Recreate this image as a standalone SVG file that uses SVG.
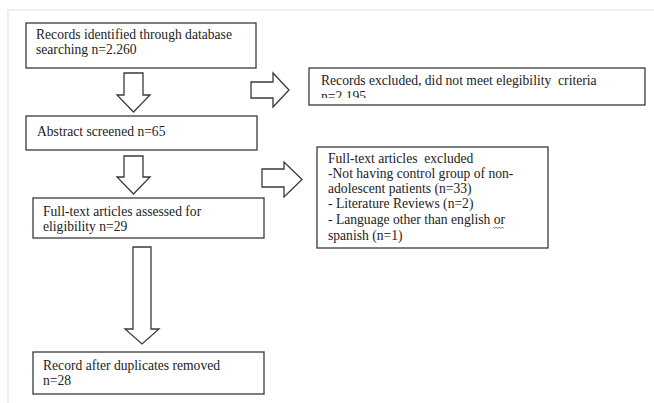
<svg xmlns="http://www.w3.org/2000/svg" width="654" height="403" viewBox="0 0 654 403">
<defs>
<style>
.box{fill:#fff;stroke:#3a3a3a;stroke-width:1.3}
.arr{fill:#fff;stroke:#3a3a3a;stroke-width:1.3;stroke-linejoin:miter}
text{font-family:"Liberation Serif","Times New Roman",serif;font-size:13.6px;fill:#222;white-space:pre}
</style>
<clipPath id="c1"><rect x="309" y="68" width="336" height="30"/></clipPath>
</defs>
<rect width="654" height="403" fill="#fff"/>
<path d="M8 403 V10 H654" fill="none" stroke="#e2e2e2" stroke-width="1.2"/>
<g id="connectors">
<path class="arr" d="M124 73 H143 V95 H150 L133.5 112 L117 95 H124 Z"/>
<path class="arr" d="M124 156 H143 V177 H150 L133.5 194 L117 177 H124 Z"/>
<path class="arr" d="M133 247 H151 V329 H159 L142 344 L125 329 H133 Z"/>
<path class="arr" d="M251 82 H273 V73 L289 90 L273 107 V98 H251 Z"/>
<path class="arr" d="M262 169 H284 V162 L302 179.5 L284 197 V187 H262 Z"/>
</g>
<g id="n1"><rect class="box" x="26" y="23" width="230" height="45"/>
<text x="36" y="39">Records identified through database</text>
<text x="36" y="54">searching n=2.260</text></g>
<g id="n2"><rect class="box" x="26" y="116" width="231" height="34"/>
<text x="37" y="136">Abstract screened n=65</text></g>
<g id="n3"><rect class="box" x="33" y="198" width="231" height="40"/>
<text x="43" y="216">Full-text articles assessed for</text>
<text x="43" y="231">eligibility n=29</text></g>
<g id="n4"><rect class="box" x="33" y="352" width="231" height="42"/>
<text x="43" y="370">Record after duplicates removed</text>
<text x="43" y="385">n=28</text></g>
<g id="n5"><rect class="box" x="309" y="68" width="336" height="37"/>
<text x="321" y="85" xml:space="preserve">Records excluded, did not meet elegibility  criteria</text>
<text x="321" y="101" clip-path="url(#c1)">n=2.195</text></g>
<g id="n6"><rect class="box" x="317" y="147" width="231" height="101"/>
<text x="328" y="163" xml:space="preserve">Full-text articles  excluded</text>
<text x="328" y="178">-Not having control group of non-</text>
<text x="328" y="193">adolescent patients (n=33)</text>
<text x="328" y="208">- Literature Reviews (n=2)</text>
<text x="328" y="224">- Language other than english or</text>
<text x="328" y="240">spanish (n=1)</text>
<path d="M493 227 l1.5 1.5 l1.5 -1.5 l1.5 1.5 l1.5 -1.5 l1.5 1.5 l1.5 -1.5 l1.5 1.5" fill="none" stroke="#e03030" stroke-width="0.8"/></g>
</svg>
